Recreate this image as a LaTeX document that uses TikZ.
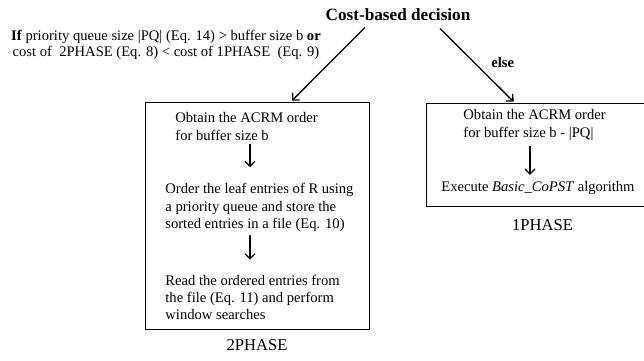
\documentclass[tikz,border=0pt]{standalone}
\usepackage{fontspec}
\setmainfont{Liberation Serif}
\usetikzlibrary{arrows.meta,positioning}
\newcommand\txt{\fontsize{14.6}{17.2}\selectfont}
\newcommand\lbl{\fontsize{16.6}{19}\selectfont}

\begin{document}
\begin{tikzpicture}[x=1pt, y=-1pt, line width=.8pt, font=\txt,
  flow/.style={-{Straight Barb[length=5pt,width=10pt]}, line width=1.3pt},
  phase/.style={draw, rectangle, inner sep=0pt}]
\useasboundingbox (0,0) rectangle (644,360); %%
\begin{scope}[inner sep=0pt]
\tikzstyle{every node}=[align=left] %%
\node (title) at (398,15) {\fontsize{17.2}{20}\selectfont\bfseries Cost-based decision}; %%
\node[align=center] (cond) at (166,45) {\textbf{If} priority queue size |PQ| (Eq. 14) > buffer size b \textbf{or}\\[-1pt] cost of~ 2PHASE (Eq. 8) < cost of 1PHASE~ (Eq. 9)}; %%
\node[phase, minimum width=224pt, minimum height=227pt] (phase2) at (257,215.5) {}; %%
\node[phase, minimum width=219pt, minimum height=103pt] (phase1) at (535.5,154.5) {}; %%
\node[below=10pt of phase2, font=\lbl] (name2) {2PHASE}; %%
\node[below=13pt of phase1, xshift=7pt, font=\lbl] (name1) {1PHASE}; %%
\node[anchor=west] (obtain2) at (175,126.5) {Obtain the ACRM order\\for buffer size b}; %%
\node[anchor=west] (sort2) at (165,207.5) {Order the leaf entries of R using\\a priority queue and store the\\sorted entries in a file (Eq. 10)}; %%
\node[anchor=west] (read2) at (165,297.5) {Read the ordered entries from\\the file (Eq. 11) and perform\\window searches}; %%
\node[anchor=west] (obtain1) at (463,125) {Obtain the ACRM order\\for buffer size b - |PQ|}; %%
\node (exec1) at (538,188) {Execute \textit{Basic\_CoPST} algorithm}; %%
\end{scope}
\coordinate (col2) at (250,0); %%
\coordinate (col1) at (530,0); %%
\draw[flow] ([xshift=-33pt,yshift=-6pt]title.south) -- ([xshift=35pt,yshift=1pt]phase2.north); %%
\draw[flow] ([xshift=42pt,yshift=-7pt]title.south) -- ([xshift=-22pt,yshift=1pt]phase1.north) node[midway, right=14pt, yshift=3pt, inner sep=0pt] (else) {\textbf{else}}; %%
\draw[flow, shorten <=3pt, shorten >=16pt] (obtain2.south -| col2) -- (sort2.north -| col2); %%
\draw[flow, shorten <=3pt, shorten >=15pt] (sort2.south -| col2) -- (read2.north -| col2); %%
\draw[flow, shorten <=5pt, shorten >=6pt] (obtain1.south -| col1) -- (exec1.north -| col1); %%
\end{tikzpicture}
\end{document}
